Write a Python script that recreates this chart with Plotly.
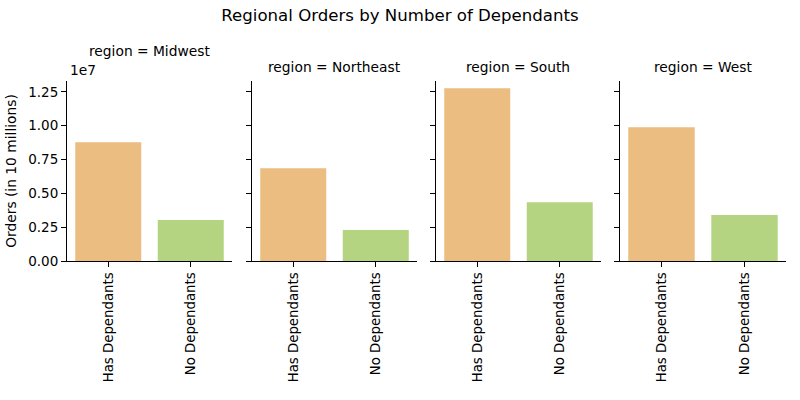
import plotly.graph_objects as go

regions = ["Midwest", "Northeast", "South", "West"]
categories = ["Has Dependants", "No Dependants"]
has_dependants = [8780000, 6860000, 12770000, 9890000]
no_dependants = [3030000, 2290000, 4350000, 3390000]
ytick_vals = [0, 2500000, 5000000, 7500000, 10000000, 12500000]
ytick_text = ["0.00", "0.25", "0.50", "0.75", "1.00", "1.25"]
bar_colors = ["#EBBD80", "#B4D482"]

FONT = "DejaVu Sans"
domains = [[0.0, 0.2295], [0.2573, 0.4868], [0.5132, 0.7427], [0.7691, 1.0]]

plot_top, plot_bot = 81, 261
def ypaper(px):
    return (plot_bot - px) / (plot_bot - plot_top)

fig = go.Figure()
layout = {}
for i, reg in enumerate(regions):
    sfx = "" if i == 0 else str(i + 1)
    fig.add_trace(go.Bar(
        x=categories,
        y=[has_dependants[i], no_dependants[i]],
        marker=dict(color=bar_colors, line=dict(width=0)),
        xaxis="x" + sfx, yaxis="y" + sfx,
        showlegend=False,
    ))
    layout["xaxis" + sfx] = dict(
        domain=domains[i], anchor="y" + sfx, type="category",
        range=[-0.5, 1.5], showline=True, linecolor="black", linewidth=1.1,
        ticks="outside", ticklen=5, tickwidth=1.1, tickcolor="black",
        tickangle=-90, showgrid=False, zeroline=False,
        tickfont=dict(family=FONT, size=13.3, color="black"),
    )
    layout["yaxis" + sfx] = dict(
        anchor="x" + sfx, range=[0, 13300000],
        tickvals=ytick_vals, ticktext=ytick_text,
        showticklabels=(i == 0),
        showline=True, linecolor="black", linewidth=1.1,
        ticks="outside", ticklen=5, tickwidth=1.1, tickcolor="black",
        showgrid=False, zeroline=False,
        tickfont=dict(family=FONT, size=13.5, color="black"),
    )
    if i != 0:
        layout["yaxis" + sfx]["matches"] = "y"

layout["yaxis"]["title"] = dict(text="Orders (in 10 millions)", standoff=8,
                                 font=dict(family=FONT, size=13.8, color="black"))

annotations = []
for i, reg in enumerate(regions):
    cx = (domains[i][0] + domains[i][1]) / 2
    annotations.append(dict(
        text=f"region = {reg}", xref="paper", yref="paper",
        x=cx, y=ypaper(51 if i == 0 else 67), xanchor="center", yanchor="middle",
        showarrow=False, font=dict(family=FONT, size=13.8, color="black"),
    ))
annotations.append(dict(text="1e7", xref="paper", yref="paper",
                        x=(68 - 67) / 719, y=ypaper(70), xanchor="left", yanchor="middle",
                        showarrow=False, font=dict(family=FONT, size=13.8, color="black")))

fig.update_layout(
    **layout,
    annotations=annotations,
    title=dict(text="Regional Orders by Number of Dependants", x=0.5, xanchor="center",
               y=1 - 15 / 400, yanchor="middle",
               font=dict(family=FONT, size=16.6, color="black")),
    width=800, height=400,
    margin=dict(l=67, r=14, t=81, b=139),
    plot_bgcolor="white", paper_bgcolor="white",
    bargap=0.2,
    font=dict(family=FONT, color="black"),
)

fig.write_html("out.html")
